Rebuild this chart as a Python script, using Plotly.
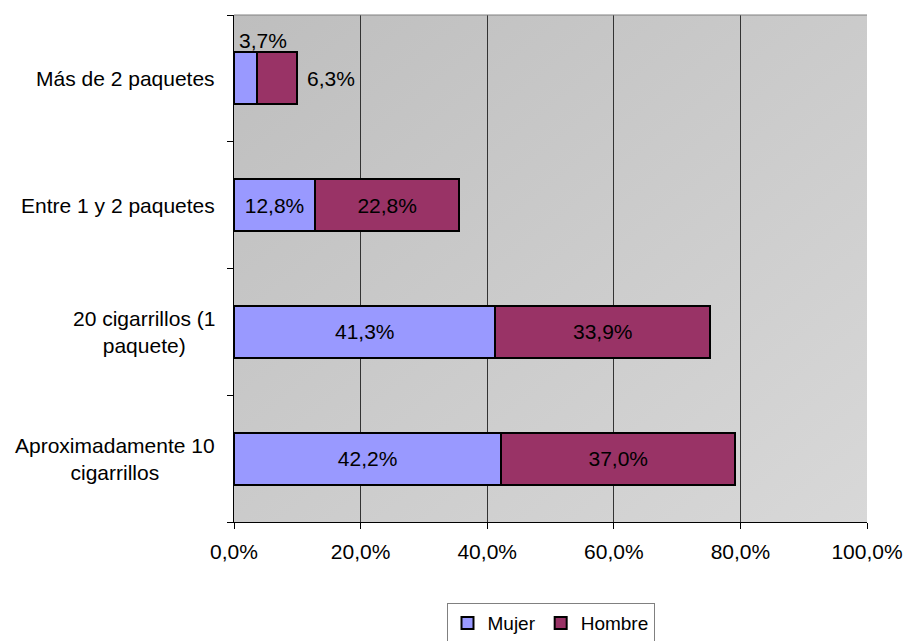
import base64
import plotly.graph_objects as go

# Consumo diario de tabaco por sexo (% de fumadores)
categorias = ["Más de 2 paquetes", "Entre 1 y 2 paquetes",
              "20 cigarrillos (1<br>paquete)", "Aproximadamente 10<br>cigarrillos"]
mujer = [3.7, 12.8, 41.3, 42.2]
hombre = [6.3, 22.8, 33.9, 37.0]
x_ticks = [0, 20, 40, 60, 80, 100]
x_ticktext = ["0,0%", "20,0%", "40,0%", "60,0%", "80,0%", "100,0%"]

FONT = "Liberation Sans, Arial, sans-serif"
FS = 21
FS_LEG = 19


def pct(v):
    return f"{v:.1f}%".replace(".", ",")


ids = list(range(len(categorias)))

# labels that fit inside the bar are drawn by the trace, the rest as annotations
small = 8.0
mujer_txt = [pct(v) if v >= small else "" for v in mujer]
hombre_txt = [pct(v) if v >= small else "" for v in hombre]

fig = go.Figure()
fig.add_trace(go.Bar(
    y=ids, x=mujer, orientation="h", name="Mujer",
    marker=dict(color="#9999FF", line=dict(color="black", width=2)),
    text=mujer_txt, textposition="inside", insidetextanchor="middle",
    textangle=0, constraintext="none",
    textfont=dict(family=FONT, size=FS, color="black"),
))
fig.add_trace(go.Bar(
    y=ids, x=hombre, orientation="h", name="Hombre",
    marker=dict(color="#993366", line=dict(color="black", width=2)),
    text=hombre_txt, textposition="inside", insidetextanchor="middle",
    textangle=0, constraintext="none",
    textfont=dict(family=FONT, size=FS, color="black"),
))

annotations = []
for i, (m, h) in enumerate(zip(mujer, hombre)):
    if m < small:
        annotations.append(dict(x=0, y=i, xref="x", yref="y", text=pct(m),
                                showarrow=False, xanchor="left", yanchor="bottom",
                                xshift=3, yshift=24,
                                font=dict(family=FONT, size=FS, color="black")))
    if h < small:
        annotations.append(dict(x=m + h, y=i, xref="x", yref="y", text=pct(h),
                                showarrow=False, xanchor="left", yanchor="middle",
                                xshift=8,
                                font=dict(family=FONT, size=FS, color="black")))

# category names, centred line by line, left of the axis
for i, c in enumerate(categorias):
    annotations.append(dict(x=0, y=i, xref="paper", yref="y", text=c,
                            showarrow=False, xanchor="right", yanchor="middle",
                            align="center", xshift=-17,
                            font=dict(family=FONT, size=FS, color="black")))

# soft diagonal gradient for the plot area
svg = ('<svg xmlns="http://www.w3.org/2000/svg" width="100" height="100" '
       'preserveAspectRatio="none"><defs><linearGradient id="g" x1="0" y1="0" '
       'x2="1" y2="1"><stop offset="0" stop-color="#BEBEBE"/>'
       '<stop offset="1" stop-color="#D8D8D8"/></linearGradient></defs>'
       '<rect width="100" height="100" fill="url(#g)"/></svg>')
bg_src = "data:image/svg+xml;base64," + base64.b64encode(svg.encode()).decode()

fig.update_layout(
    barmode="stack",
    bargap=0.59,
    width=905, height=641,
    margin=dict(l=234, r=38, t=15, b=119, pad=0, autoexpand=False),
    paper_bgcolor="white",
    plot_bgcolor="rgba(0,0,0,0)",
    font=dict(family=FONT, size=FS, color="black"),
    showlegend=True,
    legend=dict(orientation="h", x=0.5, xanchor="center", y=-0.16, yanchor="top",
                bordercolor="#808080", borderwidth=1, bgcolor="white",
                font=dict(family=FONT, size=FS_LEG, color="black"),
                itemwidth=30, traceorder="normal"),
    annotations=annotations,
    images=[dict(source=bg_src, xref="paper", yref="paper", x=0, y=1,
                 sizex=1, sizey=1, sizing="stretch", layer="below",
                 xanchor="left", yanchor="top")],
    shapes=[dict(type="line", xref="paper", yref="paper", x0=0, x1=1, y0=1, y1=1,
                 line=dict(color="#808080", width=1))],
)

fig.update_xaxes(
    range=[0, 100], tickvals=x_ticks, ticktext=x_ticktext,
    showgrid=True, gridcolor="#333333", gridwidth=1,
    showline=True, linecolor="black", linewidth=1,
    ticks="outside", ticklen=6, tickcolor="black",
    ticklabelstandoff=5, zeroline=False,
    tickfont=dict(family=FONT, size=FS, color="black"),
)
fig.update_yaxes(
    type="linear", range=[len(categorias) - 0.5, -0.5],
    tickvals=[i - 0.5 for i in range(len(categorias) + 1)],
    showticklabels=False, showgrid=False, zeroline=False,
    showline=True, linecolor="black", linewidth=1,
    ticks="outside", ticklen=6, tickcolor="black",
)

fig.write_html("out.html")
